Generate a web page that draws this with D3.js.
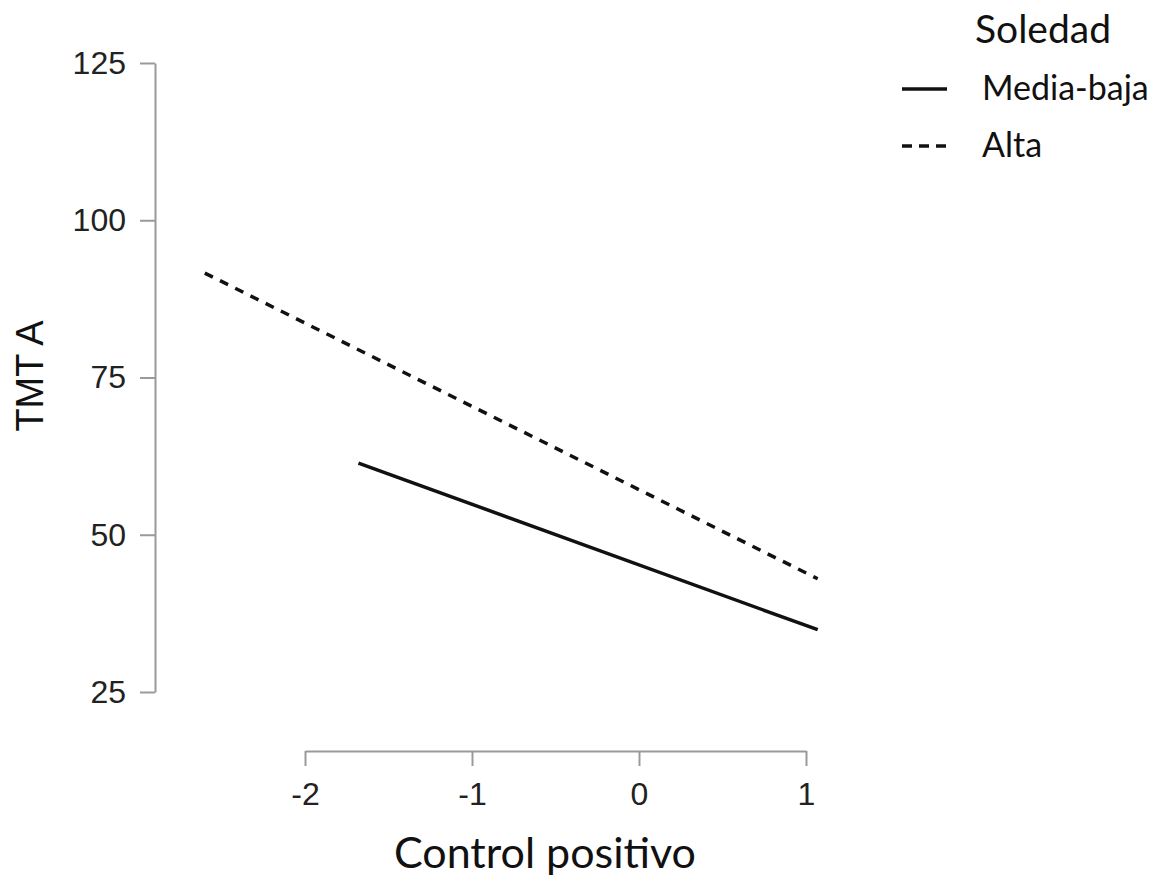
<!DOCTYPE html>
<html lang="en">
<head>
  <meta charset="UTF-8">
  <title>TMT A vs Control positivo</title>
  <script src="https://d3js.org/d3.v7.min.js"></script>
  <style>
    body { margin: 0; background: #fff; }
    .tick text { font-family: 'Liberation Sans', Arial, sans-serif; font-size: 32px; fill: #222; }
    .tick line, .domain { stroke: #9a9a9a; stroke-width: 2px; }
  </style>
</head>
<body>
  <svg width="1164" height="879"></svg>
  <script>
    // series: x endpoints (Control positivo) and y endpoints (TMT A)
    const groups = ["Media-baja", "Alta"];
    const mediaBajaX = [-1.68, 1.07];
    const mediaBajaY = [61.4, 34.9];
    const altaX = [-2.60, 1.07];
    const altaY = [91.6, 43.0];
    const xTicks = [-2, -1, 0, 1];
    const yTicks = [25, 50, 75, 100, 125];

    const svg = d3.select("svg");

    const x = d3.scaleLinear().domain([-2, 1]).range([305, 806]);
    const y = d3.scaleLinear().domain([25, 125]).range([692, 63]);

    // plain hyphen for negatives, like the original
    const fmt = d => String(d);

    // y axis
    svg.append("g")
      .attr("transform", "translate(155,0)")
      .call(d3.axisLeft(y).tickValues(yTicks).tickFormat(fmt)
        .tickSize(15).tickSizeOuter(0).tickPadding(14));

    // x axis
    svg.append("g")
      .attr("transform", "translate(0,751)")
      .call(d3.axisBottom(x).tickValues(xTicks).tickFormat(fmt)
        .tickSize(15).tickSizeOuter(0).tickPadding(16));

    const line = d3.line().x(d => x(d[0])).y(d => y(d[1]));
    const series = [
      { name: groups[0], pts: d3.zip(mediaBajaX, mediaBajaY), dash: null },
      { name: groups[1], pts: d3.zip(altaX, altaY), dash: "9,8" }
    ];

    svg.selectAll("path.series")
      .data(series)
      .join("path")
      .attr("class", "series")
      .attr("d", d => line(d.pts))
      .attr("fill", "none")
      .attr("stroke", "#111")
      .attr("stroke-width", 3.5)
      .attr("stroke-dasharray", d => d.dash);

    // axis titles
    svg.append("text")
      .attr("x", 545).attr("y", 868)
      .attr("text-anchor", "middle")
      .style("font-family", "Lato, 'Open Sans', sans-serif")
      .style("font-size", "43px")
      .attr("fill", "#111")
      .text("Control positivo");

    svg.append("text")
      .attr("transform", "translate(43,376) rotate(-90)")
      .attr("text-anchor", "middle")
      .style("font-family", "'Liberation Sans', Arial, sans-serif")
      .style("font-size", "38px")
      .attr("fill", "#111")
      .text("TMT A");

    // legend
    const lg = svg.append("g");
    lg.append("text")
      .attr("x", 975).attr("y", 43)
      .style("font-family", "Lato, 'Open Sans', sans-serif")
      .style("font-size", "39px")
      .attr("fill", "#111")
      .text("Soledad");

    const items = lg.selectAll("g.item")
      .data(series)
      .join("g")
      .attr("class", "item")
      .attr("transform", (d, i) => `translate(0,${89 + i * 57})`);

    items.append("line")
      .attr("x1", 902).attr("x2", 947)
      .attr("stroke", "#111")
      .attr("stroke-width", 3.5)
      .attr("stroke-dasharray", d => d.dash ? "10,7" : null);

    items.append("text")
      .attr("x", 982).attr("y", 11)
      .style("font-family", "Lato, 'Open Sans', sans-serif")
      .style("font-size", "34px")
      .attr("fill", "#111")
      .text(d => d.name);
  </script>
</body>
</html>
